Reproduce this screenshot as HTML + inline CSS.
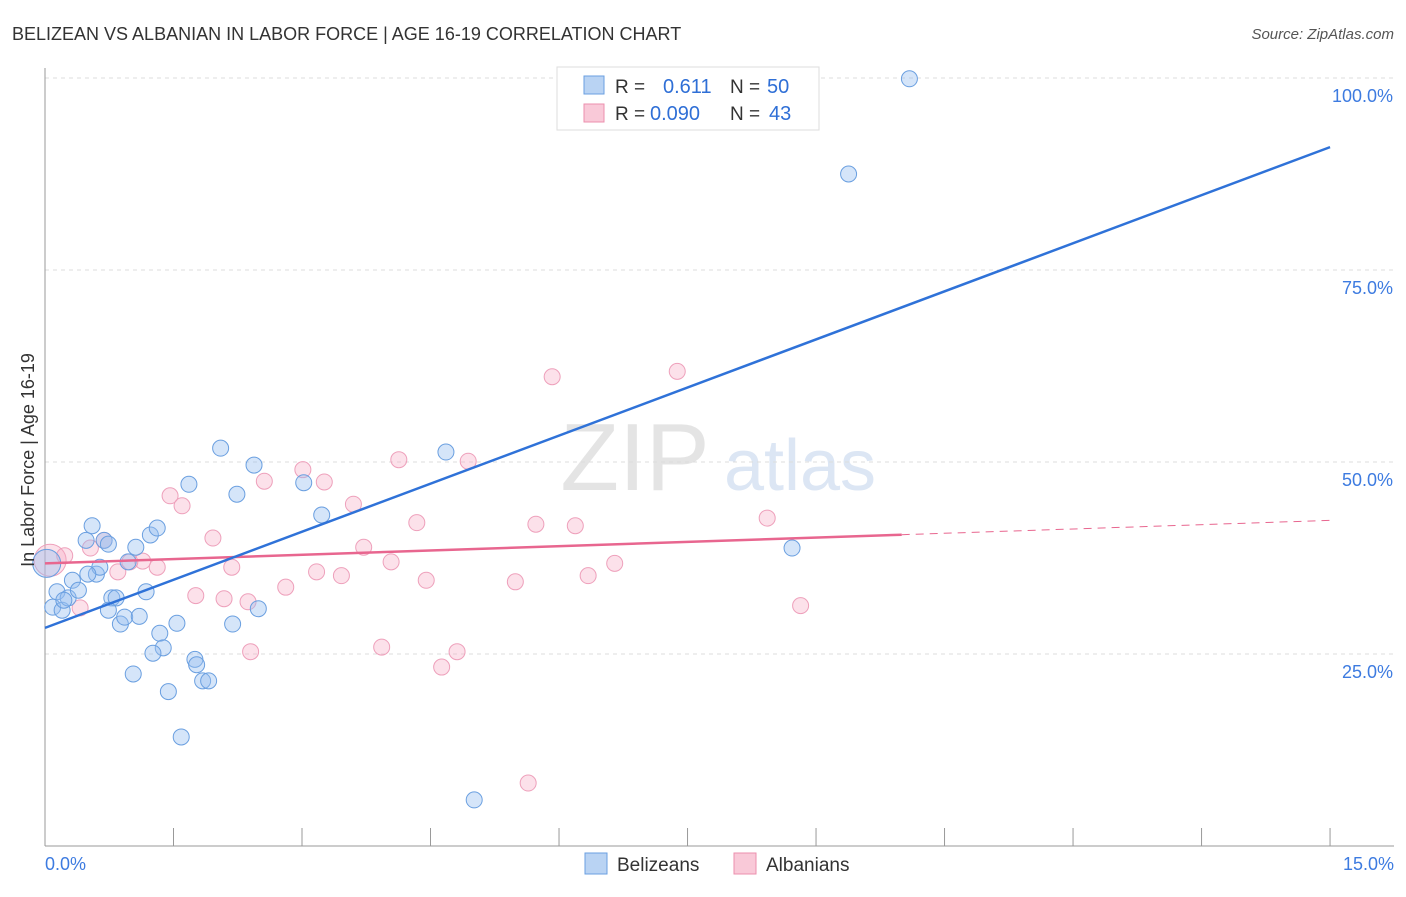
<!DOCTYPE html>
<html><head><meta charset="utf-8"><style>
body{margin:0;background:#fff;font-family:"Liberation Sans",sans-serif;}
svg text{font-family:"Liberation Sans",sans-serif;}
</style></head><body>
<svg id="chart" width="1406" height="892">
<text x="12" y="40" font-size="18" fill="#333">BELIZEAN VS ALBANIAN IN LABOR FORCE | AGE 16-19 CORRELATION CHART</text>
<text x="1394" y="39" font-size="15" fill="#555" font-style="italic" text-anchor="end">Source: ZipAtlas.com</text>
<text x="635" y="490" font-size="96" fill="#e4e4e4" font-family="Liberation Serif" text-anchor="middle">ZIP</text>
<text x="800" y="490" font-size="72" fill="#dce6f4" text-anchor="middle">atlas</text>
<g id="grid"></g><g id="axes"></g><g id="marks"></g>
<text x="34" y="460" font-size="18" fill="#333" text-anchor="middle" transform="rotate(-90 34 460)">In Labor Force | Age 16-19</text>
<g>
<rect x="557" y="67" width="262" height="63" fill="#fff" stroke="#ddd"/>
<rect x="584" y="76" width="20" height="18" fill="#b9d3f3" stroke="#6a9fe0"/>
<rect x="584" y="104" width="20" height="18" fill="#f9c9d8" stroke="#ec8fae"/>
<text x="615" y="93" font-size="19" fill="#333">R = </text><text x="663" y="93" font-size="20" fill="#2f6fd6">0.611</text>
<text x="730" y="93" font-size="19" fill="#333">N = </text><text x="767" y="93" font-size="20" fill="#2f6fd6">50</text>
<text x="615" y="120" font-size="19" fill="#333">R = </text><text x="650" y="120" font-size="20" fill="#2f6fd6">0.090</text>
<text x="730" y="120" font-size="19" fill="#333">N = </text><text x="769" y="120" font-size="20" fill="#2f6fd6">43</text>
</g>
<g>
<rect x="585" y="853" width="22" height="21" fill="#b9d3f3" stroke="#6a9fe0"/>
<text x="617" y="871" font-size="19" fill="#333">Belizeans</text>
<rect x="734" y="853" width="22" height="21" fill="#f9c9d8" stroke="#ec8fae"/>
<text x="766" y="871" font-size="19" fill="#333">Albanians</text>
</g>
</svg>
<script>
const blueX=[10.09,9.38,0.02,0.09,0.20,0.14,0.27,0.32,0.39,0.48,0.55,0.60,0.64,0.69,0.74,0.78,0.83,0.88,0.93,0.97,1.06,1.10,1.03,1.18,1.23,1.31,1.34,1.38,1.26,1.44,1.54,1.59,1.68,1.75,1.77,1.84,1.91,2.05,2.24,2.19,2.44,2.49,3.02,3.23,4.68,5.01,8.72,0.50,0.74,0.22];
const blueY=[99.9,87.5,36.8,31.1,30.7,33.1,32.3,34.6,33.3,39.8,41.7,35.4,36.3,39.8,39.3,32.3,32.3,28.9,29.8,37.0,38.9,29.9,22.4,33.1,40.5,41.4,27.7,25.8,25.1,20.1,29.0,14.2,47.1,24.3,23.6,21.5,21.5,51.8,45.8,28.9,49.6,30.9,47.3,43.1,51.3,6.0,38.8,35.4,30.7,32.0];
const pinkX=[0.06,0.23,0.41,0.53,0.69,0.85,1.14,1.31,1.46,1.60,1.76,1.96,2.09,2.18,2.37,2.56,2.40,2.81,3.01,3.17,3.26,3.46,3.60,3.72,3.93,4.04,4.13,4.34,4.45,4.63,4.81,4.94,5.49,5.64,5.73,5.92,6.19,6.34,6.65,7.38,8.43,8.82,0.99];
const pinkY=[37.2,37.8,31.0,38.8,39.8,35.7,37.1,36.3,45.6,44.3,32.6,40.1,32.2,36.3,31.8,47.5,25.3,33.7,49.0,35.7,47.4,35.2,44.5,38.9,25.9,37.0,50.3,42.1,34.6,23.3,25.3,50.1,34.4,8.2,41.9,61.1,41.7,35.2,36.8,61.8,42.7,31.3,37.0];
const blueLine=[28.4,91.0];
const pinkLine=[36.8,42.4];
const pinkSolidEnd=10.0;
const yTicks=[25,50,75,100];
const xTickLabels=["0.0%","15.0%"];
const NS="http://www.w3.org/2000/svg";
const sx=v=>45+v*85.67, sy=v=>846-v*7.68;
function mk(tag,attrs,parent){const e=document.createElementNS(NS,tag);for(const k in attrs)e.setAttribute(k,attrs[k]);document.getElementById(parent).appendChild(e);return e;}
yTicks.forEach(t=>{
 const l=mk('line',{x1:45,x2:1394,y1:sy(t),y2:sy(t),stroke:'#ddd','stroke-dasharray':'4,4'},'grid');
 
 
 const tx=mk('text',{x:1393,y:sy(t)+24,'font-size':18,fill:'#3d7be0','text-anchor':'end'},'grid');
 tx.textContent=t.toFixed(1)+'%';
 
 
});
const ax=mk('line',{x1:45,x2:1394,y1:846,y2:846,stroke:'#999'},'axes');


const ay=mk('line',{x1:45,x2:45,y1:68,y2:846,stroke:'#999'},'axes');


for(let i=0;i<=10;i++){
 const t=mk('line',{x1:sx(i*1.5),x2:sx(i*1.5),y1:828,y2:846,stroke:'#999'},'axes');
 
 
}
[[0,xTickLabels[0],'start',45],[15,xTickLabels[1],'end',1394]].forEach(([v,s,a,x])=>{
 const t=mk('text',{x:x,y:870,'font-size':18,fill:'#3d7be0','text-anchor':a},'axes');
 t.textContent=s;
 
 
});
pinkX.forEach((x,i)=>{
 const c=mk('circle',{cx:sx(x),cy:sy(pinkY[i]),r:i===0?16:8,fill:'rgba(246,170,196,0.35)',stroke:'#eea0bb','stroke-width':1},'marks');
 
 
});
blueX.forEach((x,i)=>{
 const c=mk('circle',{cx:sx(x),cy:sy(blueY[i]),r:i===2?14:8,fill:'rgba(150,190,240,0.4)',stroke:'#6a9fe0','stroke-width':1},'marks');
 
 
});
const pv=x=>pinkLine[0]+(pinkLine[1]-pinkLine[0])*x/15;
const ps=mk('line',{x1:sx(0),y1:sy(pv(0)),x2:sx(pinkSolidEnd),y2:sy(pv(pinkSolidEnd)),stroke:'#e8668f','stroke-width':2.5},'marks');


const pd=mk('line',{x1:sx(pinkSolidEnd),y1:sy(pv(pinkSolidEnd)),x2:sx(15),y2:sy(pv(15)),stroke:'#e8668f','stroke-width':1,'stroke-dasharray':'8,6'},'marks');


const bl=mk('line',{x1:sx(0),y1:sy(blueLine[0]),x2:sx(15),y2:sy(blueLine[1]),stroke:'#2f72d8','stroke-width':2.5},'marks');


</script>
</body></html>
